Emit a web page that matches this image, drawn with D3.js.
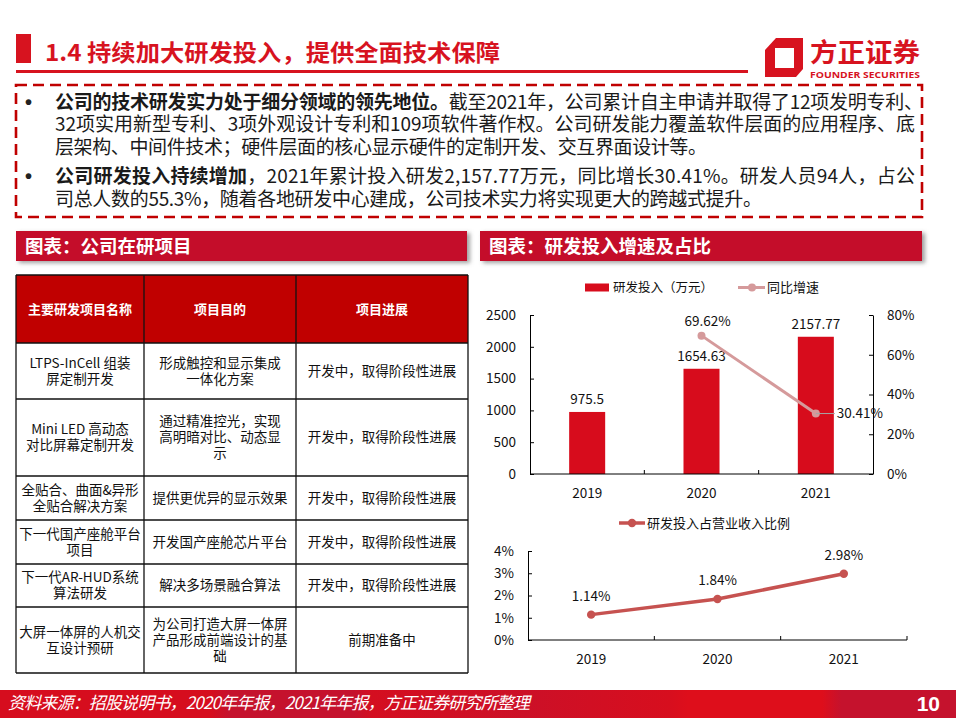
<!DOCTYPE html>
<html>
<head>
<meta charset="utf-8">
<script src="https://cdn.jsdelivr.net/npm/d3@7"></script>
<style>
  body { margin: 0; background: #fff; }
  svg { display: block; font-family: 'Noto Sans CJK SC', 'Noto Sans', sans-serif; }
</style>
</head>
<body>
<svg id="slide"></svg>
<script>
// ---- data ----
const years = ['2019', '2020', '2021']
const rdInvest = [975.5, 1654.63, 2157.77]        // 研发投入（万元）
const yoyGrowth = [null, 0.6962, 0.3041]          // 同比增速
const rdRatio = [0.0114, 0.0184, 0.0298]          // 研发投入占营业收入比例
const investTicks = [0, 500, 1000, 1500, 2000, 2500]
const growthTicks = [0, 0.2, 0.4, 0.6, 0.8]
const ratioTicks = [0, 0.01, 0.02, 0.03, 0.04]

const tableHead = ['主要研发项目名称', '项目目的', '项目进展']
const projectName = [
  ['LTPS-InCell 组装', '屏定制开发'],
  ['Mini LED 高动态', '对比屏幕定制开发'],
  ['全贴合、曲面&异形', '全贴合解决方案'],
  ['下一代国产座舱平台', '项目'],
  ['下一代AR-HUD系统', '算法研发'],
  ['大屏一体屏的人机交', '互设计预研']
]
const projectGoal = [
  ['形成触控和显示集成', '一体化方案'],
  ['通过精准控光，实现', '高明暗对比、动态显', '示'],
  ['提供更优异的显示效果'],
  ['开发国产座舱芯片平台'],
  ['解决多场景融合算法'],
  ['为公司打造大屏一体屏', '产品形成前端设计的基', '础']
]
const projectProgress = [
  ['开发中，取得阶段性进展'],
  ['开发中，取得阶段性进展'],
  ['开发中，取得阶段性进展'],
  ['开发中，取得阶段性进展'],
  ['开发中，取得阶段性进展'],
  ['前期准备中']
]

const bulletLines = [
  [{ t: '公司的技术研发实力处于细分领域的领先地位。', b: true }, { t: '截至2021年，公司累计自主申请并取得了12项发明专利、' }],
  [{ t: '32项实用新型专利、3项外观设计专利和109项软件著作权。公司研发能力覆盖软件层面的应用程序、底' }],
  [{ t: '层架构、中间件技术；硬件层面的核心显示硬件的定制开发、交互界面设计等。' }],
  [{ t: '公司研发投入持续增加', b: true }, { t: '，2021年累计投入研发2,157.77万元，同比增长30.41%。研发人员94人，占公' }],
  [{ t: '司总人数的55.3%，随着各地研发中心建成，公司技术实力将实现更大的跨越式提升。' }]
]

const RED = '#d7131f'
const DARK_RED = '#c00000'
const BAR_RED = '#d70c1c'
const PINK = '#d59a9b'
const LINE_RED = '#c65250'

const W = 956, H = 718
const svg = d3.select('#slide').attr('width', W).attr('height', H)
svg.append('rect').attr('width', W).attr('height', H).attr('fill', '#fff')

const defs = svg.append('defs')
defs.append('filter').attr('id', 'shadow')
  .attr('x', '-5%').attr('y', '-20%').attr('width', '115%').attr('height', '160%')
  .append('feDropShadow')
  .attr('dx', 3).attr('dy', 2).attr('stdDeviation', 2)
  .attr('flood-color', '#777').attr('flood-opacity', 0.7)

const footGrad = defs.append('linearGradient').attr('id', 'foot-grad')
footGrad.selectAll('stop')
  .data([
    [0, '#d60d1e'], [0.22, '#d60d1e'], [0.24, '#c5122d'], [0.37, '#c5122d'],
    [0.39, '#d40e20'], [0.55, '#cc1027'], [0.70, '#d70e1e'], [0.72, '#de0e1b'],
    [0.86, '#de0e1b'], [0.88, '#c5122d'], [1, '#c5122d']
  ])
  .enter().append('stop')
  .attr('offset', d => d[0])
  .attr('stop-color', d => d[1])

// ---- title ----
svg.append('rect').attr('x', 16).attr('y', 34).attr('width', 15).attr('height', 29).attr('fill', RED)
svg.append('text')
  .attr('x', 45).attr('y', 61)
  .attr('font-size', 23).attr('font-weight', 700).attr('fill', RED)
  .attr('textLength', 455).attr('lengthAdjust', 'spacingAndGlyphs')
  .text('1.4 持续加大研发投入，提供全面技术保障')
svg.append('rect').attr('x', 16).attr('y', 70).attr('width', 732).attr('height', 3).attr('fill', RED)

// logo
const logo = svg.append('g')
logo.append('path')
  .attr('d', 'M776,38 L803,38 L803,69 L796,77 L765,77 L765,50 Z')
  .attr('fill', RED)
logo.append('rect').attr('x', 775).attr('y', 48).attr('width', 19).attr('height', 20).attr('fill', '#fff')
logo.append('text')
  .attr('x', 810).attr('y', 62)
  .attr('font-size', 26).attr('font-weight', 700).attr('fill', RED)
  .attr('textLength', 110).attr('lengthAdjust', 'spacingAndGlyphs')
  .text('方正证券')
logo.append('text')
  .attr('x', 810).attr('y', 78)
  .attr('font-size', 9.5).attr('font-weight', 700).attr('fill', RED)
  .attr('font-family', 'Open Sans, sans-serif')
  .attr('textLength', 110).attr('lengthAdjust', 'spacingAndGlyphs')
  .text('FOUNDER SECURITIES')

// ---- bullet box ----
svg.append('rect')
  .attr('x', 16).attr('y', 85).attr('width', 906).attr('height', 132)
  .attr('fill', 'none').attr('stroke', DARK_RED).attr('stroke-width', 2.6)
  .attr('stroke-dasharray', '11,6')

const lineBase = [109, 131, 154, 183, 206]
const lineLen = [868, 860, 652, 860, 707]
const bulletAt = [0, 3]
bulletLines.forEach((segs, i) => {
  if (bulletAt.includes(i)) {
    svg.append('text').attr('x', 25).attr('y', lineBase[i])
      .attr('font-size', 20).attr('font-weight', 700).attr('fill', '#222')
      .attr('font-family', 'Liberation Sans, sans-serif')
      .text('•')
  }
  const t = svg.append('text')
    .attr('x', 55).attr('y', lineBase[i])
    .attr('font-size', 19).attr('fill', '#1a1a1a')
    .attr('textLength', lineLen[i]).attr('lengthAdjust', 'spacing')
  segs.forEach(s => {
    t.append('tspan').attr('font-weight', s.b ? 700 : 400).text(s.t)
  })
})

// ---- section headers ----
const headers = [
  { x: 16, w: 451, label: '图表：公司在研项目' },
  { x: 480, w: 442, label: '图表：研发投入增速及占比' }
]
headers.forEach(h => {
  svg.append('rect').attr('x', h.x).attr('y', 231).attr('width', h.w).attr('height', 30)
    .attr('fill', '#c40f29').attr('filter', 'url(#shadow)')
  svg.append('text').attr('x', h.x + 9).attr('y', 252.5)
    .attr('font-size', 18.5).attr('font-weight', 700).attr('fill', '#fff')
    .text(h.label)
})

// ---- table ----
const colEdges = [16, 144, 296, 468]
const rowEdges = [275, 343, 399, 476, 520, 564, 607, 673]
const table = svg.append('g')
table.append('rect')
  .attr('x', colEdges[0]).attr('y', rowEdges[0])
  .attr('width', colEdges[3] - colEdges[0]).attr('height', rowEdges[1] - rowEdges[0])
  .attr('fill', DARK_RED)

const cellText = (lines, col, row, opts) => {
  const cx = (colEdges[col] + colEdges[col + 1]) / 2
  const cy = (rowEdges[row] + rowEdges[row + 1]) / 2
  const lh = 16
  lines.forEach((ln, i) => {
    table.append('text')
      .attr('x', cx).attr('y', cy + (i - (lines.length - 1) / 2) * lh)
      .attr('dy', '0.36em').attr('text-anchor', 'middle')
      .attr('font-size', opts.size).attr('font-weight', opts.bold ? 700 : 400)
      .attr('fill', opts.color)
      .text(ln)
  })
}
tableHead.forEach((h, c) => cellText([h], c, 0, { size: 13, bold: true, color: '#fff' }))
projectName.forEach((lines, r) => cellText(lines, 0, r + 1, { size: 13.5, color: '#111' }))
projectGoal.forEach((lines, r) => cellText(lines, 1, r + 1, { size: 13.5, color: '#111' }))
projectProgress.forEach((lines, r) => cellText(lines, 2, r + 1, { size: 13.5, color: '#111' }))

table.selectAll('.hline').data(rowEdges).enter().append('line')
  .attr('x1', colEdges[0]).attr('x2', colEdges[3])
  .attr('y1', d => d).attr('y2', d => d)
  .attr('stroke', '#111').attr('stroke-width', 1.3)
table.selectAll('.vline').data(colEdges).enter().append('line')
  .attr('y1', rowEdges[0]).attr('y2', rowEdges[rowEdges.length - 1])
  .attr('x1', d => d).attr('x2', d => d)
  .attr('stroke', '#111').attr('stroke-width', 1.3)

// ---- chart 1: 研发投入 & 同比增速 ----
const c1 = svg.append('g')
const x1 = d3.scaleBand().domain(years).range([530, 873]).paddingInner(0.685).paddingOuter(0.3425)
const yL = d3.scaleLinear().domain([0, 2500]).range([474, 315])
const yR = d3.scaleLinear().domain([0, 0.8]).range([474, 315])

const styleAxis = g => {
  g.select('.domain').attr('stroke', '#000').attr('stroke-width', 1)
  g.selectAll('.tick line').attr('stroke', '#000')
  g.selectAll('.tick text').attr('font-size', 13.5).attr('fill', '#111')
    .attr('font-family', "'Noto Sans CJK SC', sans-serif")
}

c1.append('g')
  .attr('transform', 'translate(530,0)')
  .call(d3.axisLeft(yL).tickValues(investTicks).tickFormat(d3.format('d'))
    .tickSizeInner(-4).tickSizeOuter(0).tickPadding(14))
  .call(styleAxis)
c1.append('g')
  .attr('transform', 'translate(873,0)')
  .call(d3.axisRight(yR).tickValues(growthTicks).tickFormat(d3.format('.0%'))
    .tickSizeInner(-4).tickSizeOuter(0).tickPadding(14))
  .call(styleAxis)

c1.selectAll('.bar').data(rdInvest).enter().append('rect')
  .attr('x', (d, i) => x1(years[i]))
  .attr('y', d => yL(d))
  .attr('width', x1.bandwidth())
  .attr('height', d => yL(0) - yL(d))
  .attr('fill', BAR_RED)

c1.append('g')
  .attr('transform', 'translate(0,474)')
  .call(d3.axisBottom(x1).tickSize(0).tickPadding(14))
  .call(styleAxis)
  .select('.domain').attr('d', `M530,0H873`)
// inside ticks between categories
const gap1 = (x1.step() - x1.bandwidth()) / 2
c1.selectAll('.xt').data(years.slice(1)).enter().append('line')
  .attr('x1', d => x1(d) - gap1).attr('x2', d => x1(d) - gap1)
  .attr('y1', 474).attr('y2', 470)
  .attr('stroke', '#000')

c1.selectAll('.barlabel').data(rdInvest).enter().append('text')
  .attr('x', (d, i) => x1(years[i]) + x1.bandwidth() / 2)
  .attr('y', d => yL(d) - 8)
  .attr('text-anchor', 'middle').attr('font-size', 13.5).attr('fill', '#111')
  .text(d => d)

const growthPts = yoyGrowth.map((v, i) => ({ year: years[i], v })).filter(d => d.v != null)
const cx1 = d => x1(d.year) + x1.bandwidth() / 2
c1.append('path')
  .datum(growthPts)
  .attr('d', d3.line().x(cx1).y(d => yR(d.v)))
  .attr('fill', 'none').attr('stroke', PINK).attr('stroke-width', 3)
c1.selectAll('.gpt').data(growthPts).enter().append('circle')
  .attr('cx', cx1).attr('cy', d => yR(d.v)).attr('r', 4)
  .attr('fill', PINK)
// labels: first above, last to the right with leader
const fmt2 = d3.format('.2%')
c1.append('text')
  .attr('x', cx1(growthPts[0]) + 6).attr('y', yR(growthPts[0].v) - 10)
  .attr('text-anchor', 'middle').attr('font-size', 13.5).attr('fill', '#111')
  .text(fmt2(growthPts[0].v))
const last = growthPts[growthPts.length - 1]
c1.append('line')
  .attr('x1', cx1(last)).attr('x2', cx1(last) + 19)
  .attr('y1', yR(last.v)).attr('y2', yR(last.v))
  .attr('stroke', '#a6a6a6').attr('stroke-width', 1)
c1.append('text')
  .attr('x', cx1(last) + 21).attr('y', yR(last.v)).attr('dy', '0.36em')
  .attr('font-size', 13.5).attr('fill', '#111')
  .text(fmt2(last.v))

// legend 1
c1.append('rect').attr('x', 585).attr('y', 283.5).attr('width', 24).attr('height', 8).attr('fill', BAR_RED)
c1.append('text').attr('x', 613).attr('y', 287.5).attr('dy', '0.36em')
  .attr('font-size', 12.5).attr('fill', '#111').text('研发投入（万元）')
c1.append('line').attr('x1', 738).attr('x2', 765).attr('y1', 287.5).attr('y2', 287.5)
  .attr('stroke', PINK).attr('stroke-width', 3)
c1.append('circle').attr('cx', 752).attr('cy', 287.5).attr('r', 4).attr('fill', PINK)
c1.append('text').attr('x', 767).attr('y', 287.5).attr('dy', '0.36em')
  .attr('font-size', 13).attr('fill', '#111').text('同比增速')

// ---- chart 2: 研发投入占营业收入比例 ----
const c2 = svg.append('g')
const x2 = d3.scaleBand().domain(years).range([528, 907])
const y2 = d3.scaleLinear().domain([0, 0.04]).range([640, 551])

c2.append('g')
  .attr('transform', 'translate(528,0)')
  .call(d3.axisLeft(y2).tickValues(ratioTicks).tickFormat(d3.format('.0%'))
    .tickSizeInner(-4).tickSizeOuter(0).tickPadding(14))
  .call(styleAxis)
c2.append('g')
  .attr('transform', 'translate(0,640)')
  .call(d3.axisBottom(x2).tickSize(0).tickPadding(14))
  .call(styleAxis)
  .select('.domain').attr('d', 'M528,0H907')
c2.selectAll('.xt').data(years.slice(1).map(d => x2(d)).concat([x2.range()[1]])).enter().append('line')
  .attr('x1', d => d).attr('x2', d => d)
  .attr('y1', 640).attr('y2', 636)
  .attr('stroke', '#000')

const cx2 = (d, i) => x2(years[i]) + x2.bandwidth() / 2
c2.append('path')
  .datum(rdRatio)
  .attr('d', d3.line().x(cx2).y(d => y2(d)))
  .attr('fill', 'none').attr('stroke', LINE_RED).attr('stroke-width', 3.5)
c2.selectAll('.rpt').data(rdRatio).enter().append('circle')
  .attr('cx', cx2).attr('cy', d => y2(d)).attr('r', 4.2)
  .attr('fill', LINE_RED)
c2.selectAll('.rlabel').data(rdRatio).enter().append('text')
  .attr('x', cx2).attr('y', d => y2(d) - 14)
  .attr('text-anchor', 'middle').attr('font-size', 13.5).attr('fill', '#111')
  .text(d => fmt2(d))

// legend 2
c2.append('line').attr('x1', 619).attr('x2', 645).attr('y1', 523).attr('y2', 523)
  .attr('stroke', LINE_RED).attr('stroke-width', 3.5)
c2.append('circle').attr('cx', 632).attr('cy', 523).attr('r', 4.2).attr('fill', LINE_RED)
c2.append('text').attr('x', 647).attr('y', 523).attr('dy', '0.36em')
  .attr('font-size', 13).attr('fill', '#111').text('研发投入占营业收入比例')

// ---- footer ----
svg.append('rect').attr('x', 0).attr('y', 690).attr('width', W).attr('height', 28).attr('fill', 'url(#foot-grad)')
svg.append('text')
  .attr('x', 8).attr('y', 709)
  .attr('font-size', 17).attr('font-style', 'italic').attr('fill', '#fff')
  .attr('textLength', 522).attr('lengthAdjust', 'spacing')
  .text('资料来源：招股说明书，2020年年报，2021年年报，方正证券研究所整理')
svg.append('text')
  .attr('x', 940).attr('y', 710.5).attr('text-anchor', 'end')
  .attr('font-size', 21).attr('font-weight', 700).attr('fill', '#fff')
  .attr('font-family', 'Liberation Sans, Arial, sans-serif')
  .text('10')
</script>
</body>
</html>
